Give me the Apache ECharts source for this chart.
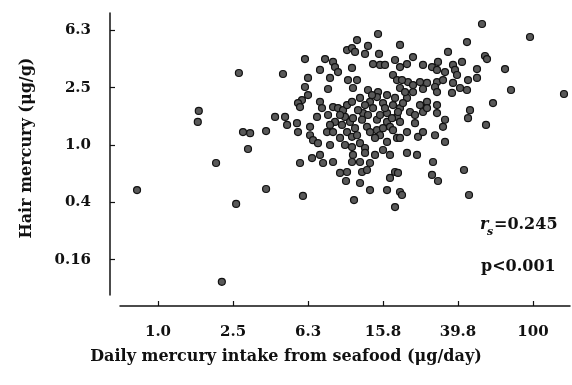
<!DOCTYPE html>
<html><head><meta charset="utf-8">
<script src="https://cdn.jsdelivr.net/npm/echarts@6/dist/echarts.min.js"></script>
<style>html,body{margin:0;padding:0;background:#fff}#c{width:572px;height:385px}</style>
</head><body><div id="c"></div>
<script>
// Daily mercury intake from seafood (µg/day)
const intake = [
14.91,11.52,13.18,19.53,10.19,10.83,11.24,12.71,15.09,53.46,96.4,44.46,35.21,
55.46,56.84,70.92,61.19,76.33,146.3,56.15,
42.85,28.93,31.14,45.57,12.25,13.02,18.37,17.27,19.05,9.35,10.19,10.06,11.95,13.51,16.65,19.53,20.01,5.93,11.10,18.37,
2.70,1.65,1.63,2.84,3.10,3.77,3.02,2.04,0.773,3.77,2.61,2.19,4.21,
6.08,7.78,8.58,8.79,10.83,22.91,14.02,15.28,16.24,18.37,19.53,21.28,25.90,28.93,30.76,33.94,37.44,41.82,38.37,39.33,50.27,
4.64,7.31,9.12,6.31,8.27,10.31,11.52,17.92,18.82,19.53,21.54,22.91,24.96,27.21,30.76,30.02,33.11,37.44,40.81,45.02,50.27,44.46,36.98,30.76,
6.08,8.07,10.96,13.18,14.91,16.65,22.91,21.28,6.31,5.86,5.58,5.72,7.31,7.49,8.58,9.12,9.70,10.19,10.83,11.95,13.51,14.72,15.85,
18.37,17.92,19.53,20.26,22.08,23.48,24.96,25.90,27.21,27.21,30.76,30.76,33.94,33.11,46.13,45.02,
4.76,4.88,5.51,5.58,6.47,7.05,8.07,9.94,10.57,10.96,12.40,13.18,14.02,14.72,16.65,16.65,17.27,18.82,19.53,23.48,21.28,
6.47,6.71,7.13,7.97,8.27,8.79,8.58,10.19,10.83,11.52,9.94,10.83,11.95,12.71,13.02,13.51,14.72,15.28,15.85,17.92,
14.37,16.65,18.82,19.53,24.36,25.90,30.02,33.94,
10.96,12.71,14.37,15.85,17.27,21.28,24.06,29.29,6.63,7.31,5.72,7.59,8.58,10.83,11.95,13.51,
31.14,25.90,9.35,9.58,11.24,12.25,11.66,16.24,17.70,15.28,19.05,20.01,20.77,9.35,8.27,12.71,13.85
];
// Hair mercury (µg/g)
const hair = [
5.95,5.40,4.91,4.99,4.60,4.75,4.46,4.32,4.32,6.99,5.67,5.23,4.46,
4.18,3.98,3.39,1.96,2.42,2.27,1.38,
0.669,0.618,0.561,0.448,0.648,0.669,0.648,0.589,0.638,0.638,0.648,0.561,0.543,0.485,0.485,0.470,0.448,0.441,0.413,0.369,
3.18,1.73,1.45,1.23,1.21,1.25,0.938,0.749,0.485,0.493,0.388,0.111,1.57,
3.98,3.98,3.80,3.50,3.45,4.11,3.67,3.62,3.62,3.92,3.50,3.67,3.62,3.50,3.34,3.23,3.62,3.80,3.34,3.08,3.39,
3.13,3.34,3.23,2.94,2.94,2.84,2.84,3.08,2.84,2.50,2.75,2.62,2.75,2.71,2.75,2.54,2.84,2.71,2.50,2.84,2.94,2.42,2.31,2.34,
2.54,2.46,2.50,2.42,2.34,2.23,2.34,2.13,2.23,2.06,1.96,1.84,2.00,1.81,1.84,1.81,1.75,1.90,2.00,2.13,2.00,2.16,1.96,
2.13,1.90,1.81,1.96,1.70,1.62,1.90,1.70,2.00,1.81,1.90,1.67,1.50,1.34,1.75,1.54,
1.57,1.38,1.42,1.23,1.34,1.57,1.62,1.57,1.45,1.54,1.67,1.62,1.81,1.50,1.67,1.45,1.34,1.57,1.45,1.42,1.23,
1.17,1.08,1.03,1.23,1.00,1.45,1.23,1.23,1.14,1.17,1.00,0.968,1.03,0.953,1.34,1.23,1.27,1.17,1.31,1.27,
1.12,1.05,1.12,1.12,1.14,1.23,1.17,1.05,
0.852,0.880,0.852,0.923,0.852,0.880,0.852,0.761,0.811,0.852,0.749,0.749,0.761,0.761,0.761,0.749,
3.80,2.46,1.62,1.38,1.31,1.50,1.75,1.81,1.54,1.62,1.70,2.84,2.34,1.12,1.38,1.90,2.23
];
const xTickValues = [1.0, 2.512, 6.310, 15.85, 39.81, 100];
const xTickLabels = ['1.0', '2.5', '6.3', '15.8', '39.8', '100'];
const yTickValues = [0.1585, 0.3981, 1.0, 2.512, 6.310];
const yTickLabels = ['0.16', '0.4', '1.0', '2.5', '6.3'];
const rsText = '=0.245';
const pText = 'p<0.001';

function pick(vals, labs, v) {
  let best = 0;
  for (let i = 1; i < vals.length; i++) {
    if (Math.abs(Math.log(vals[i] / v)) < Math.abs(Math.log(vals[best] / v))) best = i;
  }
  return labs[best];
}
const points = intake.map((x, i) => [x, hair[i]]);
const FONT = 'DejaVu Serif';
const chart = echarts.init(document.getElementById('c'), null, {renderer: 'canvas'});
chart.setOption({
  animation: false,
  backgroundColor: '#fff',
  grid: {left: 120, right: 2, top: 13, bottom: 90},
  xAxis: {
    type: 'log', logBase: 10, min: 0.627, max: 157.5, offset: 11,
    axisLine: {lineStyle: {color: '#111', width: 1.5}},
    axisTick: {inside: true, length: 5, lineStyle: {color: '#111', width: 1.2}, customValues: xTickValues},
    axisLabel: {customValues: xTickValues, margin: 19, color: '#111', fontFamily: FONT, fontWeight: 'bold', fontSize: 15,
      formatter: v => pick(xTickValues, xTickLabels, v)},
    splitLine: {show: false}, minorTick: {show: false}
  },
  yAxis: {
    type: 'log', logBase: 10, min: 0.0898, max: 8.34, offset: 10,
    axisLine: {lineStyle: {color: '#111', width: 1.5}},
    axisTick: {inside: true, length: 5, lineStyle: {color: '#111', width: 1.2}, customValues: yTickValues},
    axisLabel: {customValues: yTickValues, margin: 19, color: '#111', fontFamily: FONT, fontWeight: 'bold', fontSize: 15,
      formatter: v => pick(yTickValues, yTickLabels, v)},
    splitLine: {show: false}, minorTick: {show: false}
  },
  series: [{
    type: 'scatter', data: points, symbol: 'circle', symbolSize: 7, silent: true,
    itemStyle: {color: '#595959', borderColor: '#111', borderWidth: 1.2, opacity: 1}
  }],
  graphic: [
    {type: 'text', left: 'center', top: 349, style: {text: 'Daily mercury intake from seafood (μg/day)', fill: '#111',
      font: 'bold 16px "DejaVu Serif"'}},
    {type: 'text', x: 27, y: 148, rotation: Math.PI / 2, style: {text: 'Hair mercury (μg/g)', fill: '#111',
      font: 'bold 16px "DejaVu Serif"', align: 'center', verticalAlign: 'middle'}},
    {type: 'text', x: 480, y: 225, style: {text: 'r', fill: '#111', font: 'italic bold 16px "DejaVu Serif"', verticalAlign: 'middle'}},
    {type: 'text', x: 487, y: 232, style: {text: 's', fill: '#111', font: 'italic bold 11px "DejaVu Serif"', verticalAlign: 'middle'}},
    {type: 'text', x: 494, y: 225, style: {text: rsText, fill: '#111', font: 'bold 16px "DejaVu Serif"', verticalAlign: 'middle'}},
    {type: 'text', x: 481, y: 267, style: {text: pText, fill: '#111', font: 'bold 16px "DejaVu Serif"', verticalAlign: 'middle'}}
  ]
});
</script>
</body></html>
